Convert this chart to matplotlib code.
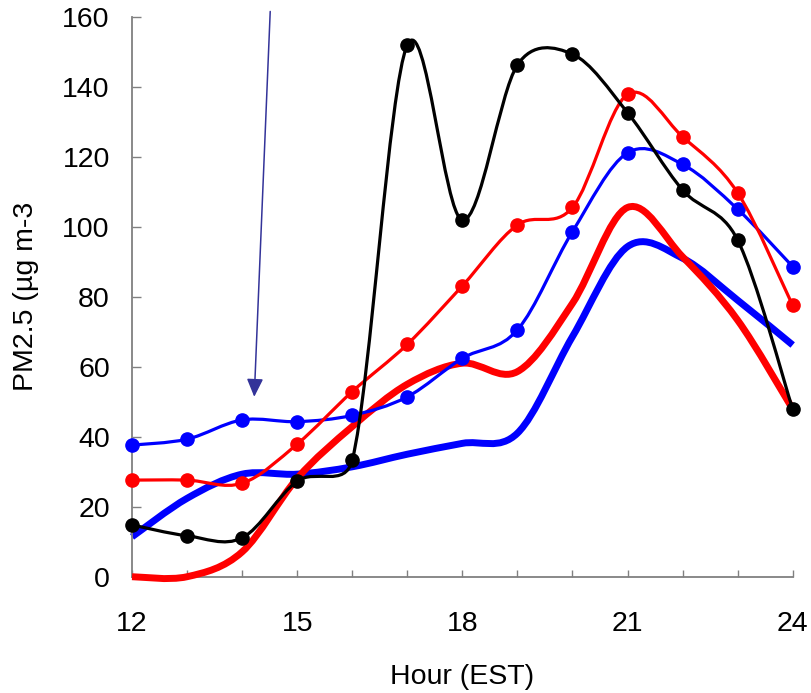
"""
PM2.5 through the evening, hourly values drawn as smoothed lines
(Excel-like smoothing done with cubic Bezier paths).
"""

import matplotlib
matplotlib.use('Agg')
import matplotlib.pyplot as plt
import numpy as np
from matplotlib.path import Path
from matplotlib.patches import PathPatch

plt.rcParams['font.family'] = ['Liberation Sans', 'DejaVu Sans']

hours = [12, 13, 14, 15, 16, 17, 18, 19, 20, 21, 22, 23, 24]

black_pts = [14.8, 11.7, 11.1, 27.3, 33.3, 151.9, 101.9, 146.2, 149.3, 132.6, 110.5, 96.2, 47.9]
red_pts = [27.6, 27.6, 26.7, 37.9, 52.9, 66.4, 83.1, 100.5, 105.5, 137.8, 125.7, 109.7, 77.5]
blue_pts = [37.6, 39.3, 44.8, 44.3, 46.1, 51.4, 62.4, 70.5, 98.6, 121.1, 117.8, 105.0, 88.6]
red_thick = [0.0, 0.0, 7.1, 28.1, 42.9, 55.0, 61.0, 58.6, 78.1, 105.5, 91.4, 73.3, 47.9]
blue_thick = [11.4, 22.4, 29.3, 29.3, 31.4, 35.0, 38.1, 41.0, 68.6, 94.3, 91.0, 79.0, 66.2]

yticks = [0, 20, 40, 60, 80, 100, 120, 140, 160]
xticks = [12, 15, 18, 21, 24]

# arrow (data coords)
arrow_from = (14.51, 161.5)
arrow_to = (14.22, 51.4)


def smooth_path(ax, x, y):
    # Bezier control points worked out in screen space; arm = (next - prev)/6,
    # capped at half the segment length so steep jumps do not overshoot
    p = ax.transData.transform(np.column_stack([x, y]))
    n = len(p)
    verts = [p[0]]
    codes = [Path.MOVETO]
    for i in range(n - 1):
        i0 = max(i - 1, 0)
        i3 = min(i + 2, n - 1)
        seg = np.hypot(*(p[i + 1] - p[i]))
        a1 = (p[i + 1] - p[i0]) / 6.0
        a2 = (p[i3] - p[i]) / 6.0
        for a in (a1, a2):
            L = np.hypot(*a)
            if L > 0.5 * seg:
                a *= 0.5 * seg / L
        verts += [p[i] + a1, p[i + 1] - a2, p[i + 1]]
        codes += [Path.CURVE4] * 3
    verts = ax.transData.inverted().transform(np.array(verts))
    return Path(verts, codes)


def add_line(ax, x, y, color, lw, z):
    patch = PathPatch(smooth_path(ax, x, y), facecolor='none', edgecolor=color,
                      lw=lw, zorder=z, capstyle='butt', joinstyle='round',
                      clip_on=False)
    ax.add_patch(patch)


def main():
    fig = plt.figure(figsize=(8.12, 6.93), dpi=100)
    ax = fig.add_axes([0.1626, 0.1678, 0.8136, 0.8081])
    ax.set_xlim(12, 24)
    ax.set_ylim(0, 160)

    add_line(ax, hours, blue_thick, '#0000ff', 5.0, 2)
    add_line(ax, hours, red_thick, '#ff0000', 5.0, 3)
    add_line(ax, hours, blue_pts, '#0000ff', 2.3, 4)
    add_line(ax, hours, red_pts, '#ff0000', 2.3, 5)
    add_line(ax, hours, black_pts, '#000000', 2.3, 6)
    ax.plot(hours, blue_pts, 'o', color='#0000ff', ms=9.5, zorder=4, clip_on=False)
    ax.plot(hours, red_pts, 'o', color='#ff0000', ms=9.5, zorder=5, clip_on=False)
    ax.plot(hours, black_pts, 'o', color='#000000', ms=9.5, zorder=6, clip_on=False)

    ax.annotate('', xy=arrow_to, xytext=arrow_from, annotation_clip=False,
                arrowprops=dict(arrowstyle='-|>,head_length=1.1,head_width=0.5',
                                color='#333399', lw=1.1, shrinkA=0, shrinkB=0))

    ax.set_xticks(xticks)
    ax.set_xticks(hours, minor=True)
    ax.set_yticks(yticks)
    ax.set_xticklabels([str(t) for t in xticks], fontsize=20.5)
    ax.set_yticklabels([str(t) for t in yticks], fontsize=20.5)
    ax.tick_params(axis='x', which='both', direction='in', length=5, width=1,
                   color='#808080', pad=25)
    ax.tick_params(axis='y', direction='in', length=6.5, width=1,
                   color='#808080', pad=16)
    for s in ['top', 'right']:
        ax.spines[s].set_visible(False)
    for s in ['left', 'bottom']:
        ax.spines[s].set_color('#808080')
        ax.spines[s].set_linewidth(1.3)

    ax.set_xlabel('Hour (EST)', fontsize=20.5, labelpad=19)
    ax.set_ylabel('PM2.5 (\u00b5g m-3', fontsize=20.5, labelpad=17)

    fig.savefig('out.png', dpi=100)


if __name__ == "__main__":
    main()
